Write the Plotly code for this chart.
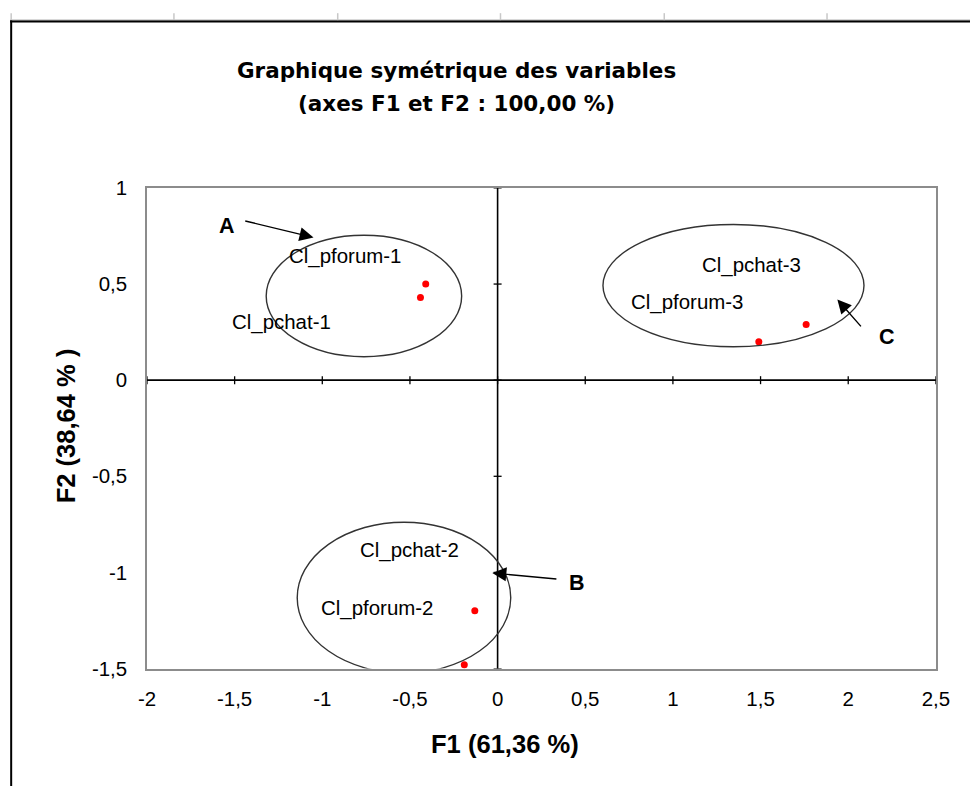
import plotly.graph_objects as go

# Modalités projetées sur le plan factoriel F1 / F2
labels = ["Cl_pforum-1", "Cl_pchat-1", "Cl_pforum-2", "Cl_pchat-2", "Cl_pforum-3", "Cl_pchat-3"]
f1 = [-0.41, -0.44, -0.13, -0.19, 1.76, 1.49]
f2 = [0.50, 0.43, -1.20, -1.48, 0.29, 0.20]

# Graduations des axes
x_ticks = [-2, -1.5, -1, -0.5, 0, 0.5, 1, 1.5, 2, 2.5]
x_tick_text = ["-2", "-1,5", "-1", "-0,5", "0", "0,5", "1", "1,5", "2", "2,5"]
y_ticks = [-1.5, -1, -0.5, 0, 0.5, 1]
y_tick_text = ["-1,5", "-1", "-0,5", "0", "0,5", "1"]

# Layout geometry. Positions below are given in screen pixels of the final
# view; the page shows about 2 % more CSS pixels than that, and the body keeps
# its default 8px margin.
SCALE = 0.978
BODY = 8
W, H = 984, 797
L, R, T, B = 146, 936, 185, 669   # plot area, screen pixels

FONT = "Liberation Sans, Arial, sans-serif"
TITLE_FONT = "DejaVu Sans, Verdana, sans-serif"


def px(x):
    return (x / SCALE - BODY) / W


def py(y):
    return 1 - (y / SCALE - BODY) / H


def fs(size):
    return size / SCALE


# Where each category label sits (data coordinates)
label_pos = {
    "Cl_pforum-1": (-0.87, 0.645),
    "Cl_pchat-1": (-1.23, 0.305),
    "Cl_pforum-2": (-0.69, -1.185),
    "Cl_pchat-2": (-0.50, -0.885),
    "Cl_pforum-3": (1.08, 0.405),
    "Cl_pchat-3": (1.45, 0.600),
}

# Cluster outlines: (x0, x1, y0, y1)
groups = [
    (-1.32, -0.205, 0.122, 0.754),
    (-1.143, 0.075, -1.524, -0.739),
    (0.601, 2.09, 0.174, 0.81),
]

# Callout arrows: letter, letter position, arrow tail, arrow tip
callouts = [
    ("A", (-1.545, 0.802), (-1.448, 0.830), (-1.050, 0.742)),
    ("B", (0.452, -1.056), (0.344, -1.035), (-0.030, -1.003)),
    ("C", (2.223, 0.223), (2.080, 0.272), (1.938, 0.420)),
]

fig = go.Figure()
fig.add_trace(go.Scatter(
    x=f1, y=f2, mode="markers", text=labels, hoverinfo="text",
    marker=dict(color="#ff0000", size=7, symbol="circle"),
    showlegend=False, cliponaxis=False,
))

shapes = []
# axes crossing at zero
shapes.append(dict(type="line", xref="x", yref="y domain", x0=0, x1=0, y0=0, y1=1,
                   line=dict(color="black", width=1.6), layer="above"))
shapes.append(dict(type="line", xref="x domain", yref="y", x0=0, x1=1, y0=0, y1=0,
                   line=dict(color="black", width=1.6), layer="above"))
# cross tick marks on the zero axes
for v in x_ticks:
    shapes.append(dict(type="line", xref="x", yref="y", ysizemode="pixel", yanchor=0,
                       x0=v, x1=v, y0=-4, y1=4, line=dict(color="black", width=1.3)))
for v in y_ticks:
    shapes.append(dict(type="line", xref="x", yref="y", xsizemode="pixel", xanchor=0,
                       y0=v, y1=v, x0=-4, x1=4, line=dict(color="black", width=1.3)))
# ellipses around the clusters
for x0, x1, y0, y1 in groups:
    shapes.append(dict(type="circle", xref="x", yref="y", x0=x0, x1=x1, y0=y0, y1=y1,
                       line=dict(color="#333333", width=1.4), layer="above"))

# sheet frame: black border on the left and top, grey cell rules above it
shapes.append(dict(type="line", xref="paper", yref="paper", x0=px(10), x1=px(10),
                   y0=0, y1=py(16), line=dict(color="black", width=2)))
shapes.append(dict(type="line", xref="paper", yref="paper", x0=px(9), x1=1,
                   y0=py(16), y1=py(16), line=dict(color="#9a9a9a", width=1)))
shapes.append(dict(type="line", xref="paper", yref="paper", x0=px(9), x1=1,
                   y0=py(17.5), y1=py(17.5), line=dict(color="black", width=2)))
for gx in [10, 173, 337, 500, 664, 827]:
    shapes.append(dict(type="line", xref="paper", yref="paper", x0=px(gx), x1=px(gx),
                       y0=py(9), y1=py(16), line=dict(color="#c8c8c8", width=1.5)))

annotations = []
for name in labels:
    lx, ly = label_pos[name]
    annotations.append(dict(x=lx, y=ly, xref="x", yref="y", text=name, showarrow=False,
                            xanchor="center", yanchor="middle",
                            font=dict(family=FONT, size=fs(20), color="black")))

for letter, (tx, ty), (ax, ay), (hx, hy) in callouts:
    annotations.append(dict(x=tx, y=ty, xref="x", yref="y", text="<b>" + letter + "</b>",
                            showarrow=False, xanchor="center", yanchor="middle",
                            font=dict(family=FONT, size=fs(21), color="black")))
    annotations.append(dict(x=hx, y=hy, ax=ax, ay=ay, xref="x", yref="y", axref="x", ayref="y",
                            text="", showarrow=True, arrowhead=2, arrowsize=2.0,
                            arrowwidth=1.4, arrowcolor="black"))


def page_text(x, y, text, font, size, angle=0):
    annotations.append(dict(x=px(x), y=py(y), xref="paper", yref="paper", text=text,
                            showarrow=False, xanchor="center", yanchor="middle",
                            textangle=angle, font=dict(family=font, size=fs(size), color="black")))


# titles
page_text(456, 67, "<b>Graphique symétrique des variables</b>", TITLE_FONT, 21)
page_text(456, 100, "<b>(axes F1 et F2 : 100,00 %)</b>", TITLE_FONT, 21)
page_text(505, 745, "<b>F1 (61,36 %)</b>", FONT, 25)
page_text(65, 425, "<b>F2 (38,64 % )</b>", FONT, 25, angle=-90)

axis_common = dict(showgrid=False, zeroline=False, showline=True, mirror=True,
                   linecolor="#8c8c8c", linewidth=1.5, ticks="outside",
                   tickcolor="rgba(0,0,0,0)", fixedrange=True,
                   tickfont=dict(family=FONT, size=fs(20), color="black"))

fig.update_layout(
    width=W, height=H, autosize=False,
    margin=dict(l=0, r=0, t=0, b=0),
    paper_bgcolor="white", plot_bgcolor="white",
    separators=", ",
    showlegend=False,
    xaxis=dict(domain=[px(L), px(R)], range=[-2, 2.5], tickvals=x_ticks,
               ticktext=x_tick_text, ticklen=11, **axis_common),
    yaxis=dict(domain=[py(B), py(T)], range=[-1.5, 1], tickvals=y_ticks,
               ticktext=y_tick_text, ticklen=14, **axis_common),
    shapes=shapes,
    annotations=annotations,
)

fig.write_html("out.html")
